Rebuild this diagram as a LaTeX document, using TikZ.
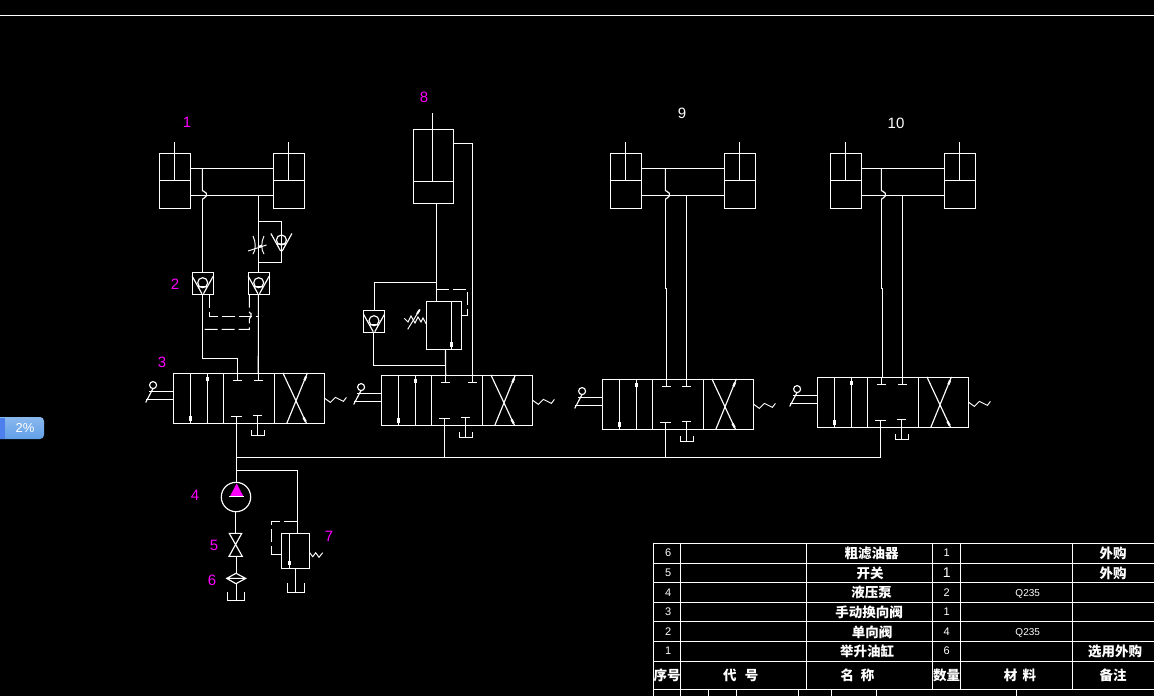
\documentclass[tikz,border=0pt]{standalone}
\usepackage{fontspec}
\setmainfont{Liberation Sans}
\newfontfamily\cjk{Noto Sans CJK SC}
\definecolor{mag}{RGB}{255,0,255}
\definecolor{wblue}{RGB}{98,160,232}
\tikzset{
 ln/.style={draw=white,line width=1.15pt,line join=miter},
 dsh/.style={ln,dash pattern=on 13pt off 4pt},
 hd/.style={draw=white,line width=2.8pt},
 thin ln/.style={draw=white,line width=0.95pt},
 maglab/.style={text=mag,font=\fontsize{15}{15}\selectfont,inner sep=0pt},
 whlab/.style={text=white,font=\fontsize{15}{15}\selectfont,inner sep=0pt},
 cn/.style={text=white,font=\cjk\bfseries\fontsize{13.5}{14}\selectfont,inner sep=0pt},
 num/.style={text=white,font=\fontsize{11}{12}\selectfont,inner sep=0pt},
 q/.style={text=white,font=\fontsize{10}{10}\selectfont,inner sep=0pt},
}
% valve: name, x, y, top port 2 offset
\newcommand{\dirvalve}[4]{%
\begin{scope}[shift={(#2,#3)}]
 \draw[ln] (0,0) rectangle (151,50);
 \draw[ln] (50.3,0)--(50.3,50) (101.3,0)--(101.3,50);
 \draw[ln] (17.3,0)--(17.3,50) (34.3,0)--(34.3,50);
 \draw[hd] (17.3,42.5)--(17.3,47.5) (34.3,3.5)--(34.3,7.5);
 \draw[ln] (109.5,-0.5)--(133,49.7) (134,-0.5)--(113.5,49.7);
 \draw[hd,line width=2.2pt] (132.7,3)--(131,7) (130,44)--(132.3,48);
 \coordinate (#1t1) at (64.3,0); \coordinate (#1t2) at (#4,0);
 \coordinate (#1b1) at (63.1,50);
 \draw[ln] (#1t1)--(64.3,7) (60,7)--(68.6,7);
 \draw[ln] (#1t2)--(#4,7) (#4-4.3,7)--(#4+4.3,7);
 \draw[ln] (#1b1)--(63.1,43) (58,43)--(69,43);
 \draw[ln] (84.3,42)--(84.3,62) (80,42)--(88.6,42) (78.3,57)--(78.3,62)--(91.3,62)--(91.3,57);
 \draw[ln] (0,18.3)--(-24,18.3) (0,26.3)--(-27,26.3);
 \draw[ln] (-20.3,11.7) circle (3.5);
 \draw[ln] (-20.3,15)--(-27.7,29);
 \draw[thin ln] (151,24.7)--(157,29)--(162,24)--(170,28)--(173,24);
\end{scope}}
% twin cylinders
\newcommand{\cylpair}[4]{%
\begin{scope}[shift={(#2,153.3)}]
 \draw[ln] (0,0) rectangle (31.4,55.4) (0,27)--(31.4,27) (15,27)--(15,-11);
 \draw[ln] (#3,0) rectangle (#3+31.4,55.4) (#3,27)--(#3+31.4,27) (#3+15,27)--(#3+15,-11);
 \draw[ln] (31.4,15)--(#3,15);
 \draw[ln] (31.4,42)--(#3,42);
 \coordinate (#1p1) at (#4,15);
 \coordinate (#1h) at (#4,45.5);
 \draw[ln] (#1p1)--(#4,37.4)--(#4+1,37.7)--(#4+4,40)--(#4+4,42.7)--(#4+1,45.4)--(#1h);
\end{scope}}
% check valve
\newcommand{\checkv}[3]{%
\begin{scope}[shift={(#2,#3)}]
 \draw[ln] (0,0) circle (5);
 \draw[ln] (-10.5,-6.5)--(-0.8,11) (10.5,-6.5)--(0.8,11) (-4,4)--(4,4);
\end{scope}}
\begin{document}
\begin{tikzpicture}[x=1pt,y=-1pt]
\useasboundingbox (0,0) rectangle (1154,696);
\fill[black] (0,0) rectangle (1154,696);
\draw[ln] (0,15.5)--(1154,15.5);
% status widget
\shade[top color=wblue!75!white,bottom color=wblue,rounded corners=4pt] (-6,417) rectangle (44,439);
\fill[wblue!80!blue] (0,417.5) rectangle (5,438.5);
\node[inner sep=0pt,text=white,font=\fontsize{13}{13}\selectfont] (widget) at (25,428) {2\%};
% labels
\node[maglab] (l1) at (187,122) {1};
\node[maglab] (l2) at (175,284.5) {2};
\node[maglab] (l3) at (162,362) {3};
\node[maglab] (l4) at (195,495) {4};
\node[maglab] (l5) at (214,545) {5};
\node[maglab] (l6) at (212,580) {6};
\node[maglab] (l7) at (329,536) {7};
\node[maglab] (l8) at (424,97) {8};
\node[whlab] (l9) at (682,113) {9};
\node[whlab] (l10) at (896,123.5) {10};
% valves
\dirvalve{va}{173.4}{373.4}{84.9}
\dirvalve{vb}{381.4}{375.4}{91}
\dirvalve{vc}{602.4}{379.4}{84}
\dirvalve{vd}{817.4}{377.4}{85}
% cylinders
\cylpair{ca}{159.4}{114}{43}
\cylpair{cc}{610.4}{114}{55}
\cylpair{cd}{830.4}{114}{51}
% group 1 circuit
\draw[ln] (192.4,272.4) rectangle (213.6,294.6) (248.4,272.4) rectangle (269.6,294.6);
\checkv{ka}{202.7}{282.7}
\checkv{kb}{258.7}{282.7}
\coordinate (kat) at (202.4,272.4); \coordinate (kab) at (202.4,294.6);
\coordinate (kbt) at (258.4,272.4); \coordinate (kbb) at (258.4,294.6);
\draw[ln] (cah)--(kat);
\draw[ln] (258.4,195.3)--(kbt);
\draw[ln] (kab)--(202.4,358.4)-|(vat1);
\draw[ln] (kbb)--(vat2);
\draw[ln] (258.4,221.4)-|(281.4,262.4)--(258.4,262.4);
\checkv{kc}{281.4}{240}
\draw[thin ln] (253,236) .. controls (256,242) and (256,250) .. (253,254);
\draw[thin ln] (264,236) .. controls (261,242) and (261,250) .. (264,254);
\draw[thin ln] (248,251)--(266.5,245);
\draw[hd,line width=2.4pt] (258,247)--(262,246);
\draw[dsh] (209.4,294.6)--(209.4,316.4)--(258.4,316.4);
\draw[dsh] (249.4,294.6)--(249.4,312.5)--(251,313.5)--(251,316.4)--(249.4,319)--(249.4,329.4)--(202.4,329.4);
% group 2 circuit
\draw[ln] (413.4,129.4) rectangle (453.6,203.6) (413.4,181.4)--(453.6,181.4) (432.4,181.4)--(432.4,113);
\draw[ln] (426.4,301.4) rectangle (461.6,349.4);
\coordinate (rt) at (436.4,301.4);
\draw[ln] (436.4,203.6)--(rt);
\draw[ln] (453.6,143.4)-|(vbt2);
\draw[ln] (451.4,301.4)--(451.4,349);
\draw[hd] (451.4,342)--(451.4,347);
\draw[ln] (436.4,282.4)-|(374.4,310.4);
\draw[ln] (363.4,310.4) rectangle (384.6,332.4);
\checkv{kd}{374}{320.7}
\draw[ln] (373.4,332.4)--(373.4,365.4)--(445.4,365.4);
\draw[ln] (445.4,349.4)--(vbt1);
\draw[dsh] (436.4,289.4)--(467.6,289.4)--(467.6,315.4);
\draw[ln] (467.6,315.4)--(461.6,315.4);
\draw[thin ln] (404.3,318.3)--(408,322)--(411,316)--(415,323)--(418,317)--(421,322)--(423,318)--(426.3,324);
\draw[thin ln] (407.7,329.3)--(420,309.3);
\draw[hd,line width=2pt] (417,314)--(419.5,310);
% group 9 / 10
\draw[ln] (cch)--(665.4,288.6)--(666.4,288.6)--(666.4,379.4);
\draw[ln] (686.4,195.4)--(686.4,379.4);
\draw[ln] (cdh)--(881.4,288.4)--(882.4,288.4)--(882.4,377.4);
\draw[ln] (902.4,195.4)--(902.4,377.4);
% supply
\draw[ln] (vab1)--(236.5,483.4);
\draw[ln] (236.5,457.4)--(881,457.4);
\draw[ln] (vbb1)--(444.5,457.4);
\draw[ln] (vcb1)--(665.5,457.4);
\draw[ln] (vdb1)--(880.5,457.4);
\draw[ln] (236.5,470.4)-|(297.4,533.4);
% pump
\draw[ln] (236,497) circle (14.7);
\fill[mag] (236.7,483.3)--(230,496.3)--(243.3,496.3)--cycle;
\draw[ln] (229,496.5)--(244,496.5);
\draw[ln] (235.6,511.7)--(235.6,533.4);
\draw[ln] (229.3,533.4)--(241.7,533.4)--(229,556.4)--(242.3,556.4)--cycle;
\draw[ln] (236.4,556.4)--(236.4,573.3);
\draw[ln] (226.7,578.4)--(236,573.3)--(245.7,578.4)--(236,583.7)--cycle (226.7,578.4)--(245.7,578.4);
\draw[ln] (236.4,583.7)--(236.4,600.6) (227.4,592.4)--(227.4,600.6)--(244.6,600.6)--(244.6,592.4);
% relief 7
\draw[ln] (281.4,533.4) rectangle (309.6,568.4);
\draw[ln] (289.4,533.4)--(289.4,568.4);
\draw[hd] (289.4,561)--(289.4,565);
\draw[dsh] (297.4,521.4)--(271.4,521.4)--(271.4,554.4);
\draw[ln] (271.4,554.4)--(281.4,554.4);
\draw[thin ln] (309.7,552.7)--(312.7,556.7)--(315.7,552.7)--(319,557.3)--(322.7,552.7);
\draw[ln] (295.6,568.4)--(295.6,592.6) (287.4,583.4)--(287.4,592.6)--(304.6,592.6)--(304.6,583.4);
% table
\draw[ln] (653.4,543.4)--(1154,543.4) (653.4,563.4)--(1154,563.4) (653.4,582.4)--(1154,582.4) (653.4,602.4)--(1154,602.4) (653.4,621.6)--(1154,621.6) (653.4,641.4)--(1154,641.4) (653.4,661.4)--(1154,661.4) (653.4,689.4)--(1154,689.4);
\draw[ln] (653.4,543.4)--(653.4,696) (680.6,543.4)--(680.6,696) (806.6,543.4)--(806.6,689.4) (932.6,543.4)--(932.6,689.4) (960.4,543.4)--(960.4,689.4) (1072.6,543.4)--(1072.6,689.4);
\draw[ln] (708.4,689.4)--(708.4,696) (736.4,689.4)--(736.4,696) (798.4,689.4)--(798.4,696) (831.6,689.4)--(831.6,696) (876.6,689.4)--(876.6,696) (1016.6,689.4)--(1016.6,696);
\node[num] (n6) at (668.3,553) {6};
\node[num] (n5) at (668.3,573) {5};
\node[num] (n4) at (668.3,592.5) {4};
\node[num] (n3) at (668.3,612) {3};
\node[num] (n2) at (668.3,632) {2};
\node[num] (n1) at (668.3,651) {1};
\node[cn] (m6) at (871.7,553) {粗滤油器};
\node[cn] (m5) at (870,573) {开关};
\node[cn] (m4) at (871.7,592.5) {液压泵};
\node[cn] (m3) at (869,612) {手动换向阀};
\node[cn] (m2) at (872,632) {单向阀};
\node[cn] (m1) at (867,651) {举升油缸};
\node[num] (c6) at (946.7,553) {1};
\node[num,font=\fontsize{14}{14}\selectfont] (c5) at (946.7,573) {1};
\node[num] (c4) at (946.7,592.5) {2};
\node[num] (c3) at (946.7,612) {1};
\node[num] (c2) at (946.7,632) {4};
\node[num] (c1) at (946.7,651) {6};
\node[q] (d4) at (1027.7,593.5) {Q235};
\node[q] (d2) at (1027.7,633) {Q235};
\node[cn] (r6) at (1113,553) {外购};
\node[cn] (r5) at (1113,573) {外购};
\node[cn] (r1) at (1115,651) {选用外购};
\node[cn] (h1) at (667,675.5) {序号};
\node[cn] (h2) at (740.7,675) {代\hspace{0.6em}号};
\node[cn] (h3) at (857.5,675.5) {名\hspace{0.5em}称};
\node[cn] (h4) at (946.7,675.5) {数量};
\node[cn] (h5) at (1020,675) {材\hspace{0.4em}料};
\node[cn] (h6) at (1113,675.5) {备注};
\end{tikzpicture}
\end{document}
